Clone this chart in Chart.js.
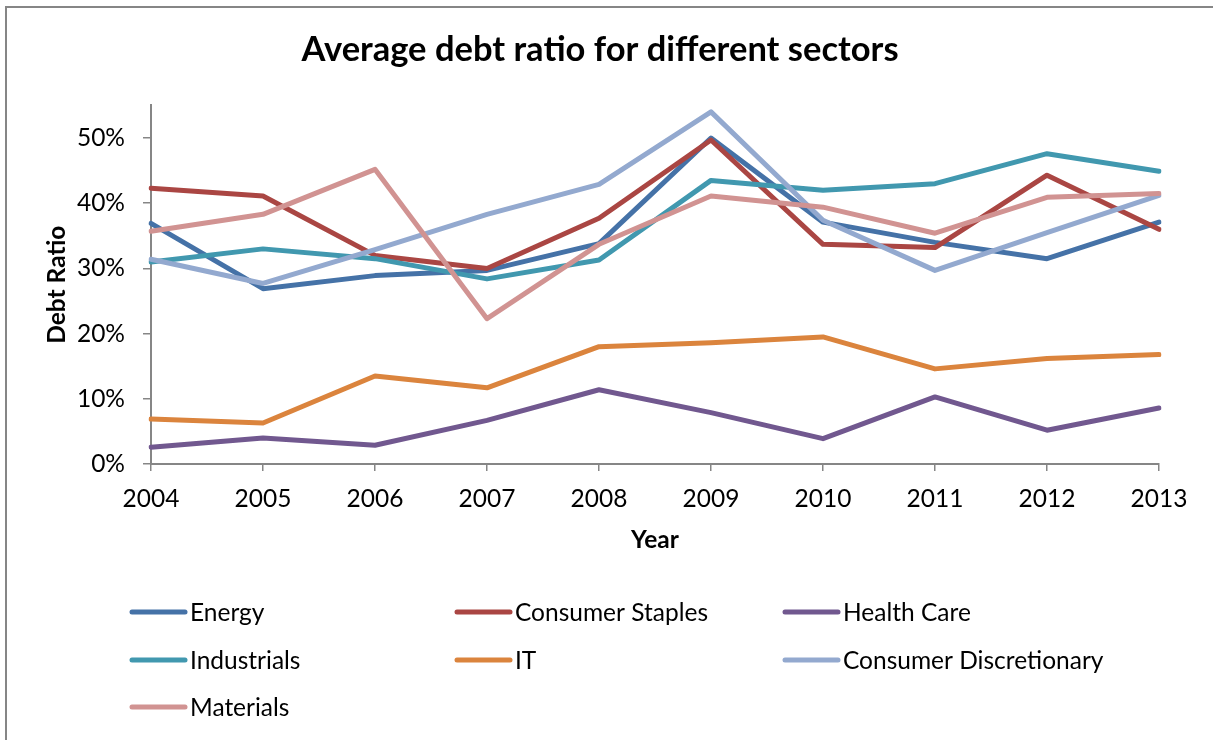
<!DOCTYPE html>
<html>
<head>
<meta charset="utf-8">
<title>Average debt ratio for different sectors</title>
<script src="https://cdn.jsdelivr.net/npm/chart.js@4"></script>
<style>
    body { margin: 0; background: #fff; }
    #wrap { position: relative; width: 1213px; height: 740px; overflow: hidden; }
    #frame {
        position: absolute; left: 5px; top: 6px; width: 1300px; height: 900px;
        border-left: 2px solid #868686; border-top: 2px solid #868686;
        pointer-events: none;
    }
</style>
</head>
<body>
<div id="wrap">
    <canvas id="myChart"></canvas>
    <div id="frame"></div>
</div>
<script>
// years on the x axis
const years = ["2004", "2005", "2006", "2007", "2008", "2009", "2010", "2011", "2012", "2013"]

// average debt ratio per sector (fraction of 1)
const energy        = [0.369, 0.269, 0.289, 0.297, 0.338, 0.500, 0.371, 0.340, 0.315, 0.371]
const staples       = [0.423, 0.411, 0.320, 0.300, 0.377, 0.497, 0.337, 0.332, 0.443, 0.360]
const healthCare    = [0.026, 0.040, 0.029, 0.067, 0.114, 0.079, 0.039, 0.103, 0.052, 0.086]
const industrials   = [0.310, 0.330, 0.315, 0.284, 0.313, 0.435, 0.420, 0.430, 0.476, 0.449]
const it            = [0.069, 0.063, 0.135, 0.117, 0.180, 0.186, 0.195, 0.146, 0.162, 0.168]
const discretionary = [0.314, 0.277, 0.329, 0.383, 0.429, 0.540, 0.374, 0.297, 0.355, 0.412]
const materials     = [0.357, 0.383, 0.452, 0.223, 0.337, 0.411, 0.394, 0.354, 0.409, 0.415]

const sectorNames = ["Energy", "Consumer Staples", "Health Care", "Industrials", "IT", "Consumer Discretionary", "Materials"]
const sectorValues = [energy, staples, healthCare, industrials, it, discretionary, materials]
const sectorColors = ["#4572A7", "#AA4643", "#71588F", "#4198AF", "#DB843D", "#93A9CF", "#D19392"]

// y axis range and tick spacing
const yMin = 0
const yMax = 0.55
const yStep = 0.1
const yLastLabel = 0.5

const FONT = "Lato, 'Open Sans', sans-serif"
const AXIS_GREY = "#868686"

// legend laid out as a 3 column grid under the chart
const gridLegend = {
    id: "gridLegend",
    afterDraw(chart) {
        const ctx = chart.ctx
        const cols = [130, 455, 783]
        const rows = [612, 660, 707]
        ctx.save()
        ctx.font = "24.5px " + FONT
        ctx.textBaseline = "middle"
        ctx.fillStyle = "#000"
        chart.data.datasets.forEach((ds, i) => {
            const x = cols[i % 3]
            const y = rows[Math.floor(i / 3)]
            ctx.strokeStyle = ds.borderColor
            ctx.lineWidth = 5
            ctx.lineCap = "round"
            ctx.beginPath()
            ctx.moveTo(x + 2, y)
            ctx.lineTo(x + 55, y)
            ctx.stroke()
            ctx.fillText(ds.label, x + 60, y + 1)
        })
        ctx.restore()
    }
}

const ctx = document.getElementById("myChart")
const myChart = new Chart(ctx, {
    type: "line",
    data: {
        labels: years,
        datasets: sectorNames.map((name, i) => ({
            label: name,
            data: sectorValues[i],
            borderColor: sectorColors[i],
            backgroundColor: sectorColors[i],
            borderWidth: 5,
            borderCapStyle: "round",
            borderJoinStyle: "round",
            pointRadius: 0,
            tension: 0,
            fill: false,
            order: sectorNames.length - i, // later series drawn on top
        }))
    },
    options: {
        responsive: true,
        maintainAspectRatio: false,
        animation: false,
        layout: {
            padding: { left: 41, right: 54, top: 0, bottom: 188 }
        },
        scales: {
            x: {
                offset: false,
                grid: { display: true, drawOnChartArea: false, drawTicks: true, tickLength: 7, color: AXIS_GREY, lineWidth: 1.5 },
                border: { display: true, color: AXIS_GREY, width: 2 },
                ticks: { color: "#000", font: { family: FONT, size: 24.5 }, padding: 13.5, maxRotation: 0 },
                title: {
                    display: true,
                    text: "Year",
                    color: "#000",
                    font: { family: FONT, size: 24.5, weight: "bold", lineHeight: 1 },
                    padding: { top: 0, bottom: 0 }
                }
            },
            y: {
                min: yMin,
                max: yMax,
                afterBuildTicks: scale => {
                    scale.ticks = scale.ticks.filter(t => t.value <= yLastLabel + 1e-9)
                },
                afterFit: scale => { scale.width = 110 },
                grid: { display: true, drawOnChartArea: false, drawTicks: true, tickLength: 8, color: AXIS_GREY, lineWidth: 1.5 },
                border: { display: true, color: AXIS_GREY, width: 2 },
                ticks: {
                    stepSize: yStep,
                    color: "#000",
                    font: { family: FONT, size: 24.5 },
                    padding: 18,
                    callback: v => Math.round(v * 100) + "%"
                },
                title: {
                    display: true,
                    text: "Debt Ratio",
                    color: "#000",
                    font: { family: FONT, size: 24.5, weight: "bold", lineHeight: 1 },
                    padding: { top: 4, bottom: 4 }
                }
            }
        },
        plugins: {
            legend: { display: false },
            tooltip: { enabled: false },
            title: {
                display: true,
                text: "Average debt ratio for different sectors",
                color: "#000",
                font: { family: FONT, size: 34.5, weight: "bold" },
                padding: { top: 29, bottom: 35 }
            }
        }
    },
    plugins: [gridLegend]
})
</script>
</body>
</html>
